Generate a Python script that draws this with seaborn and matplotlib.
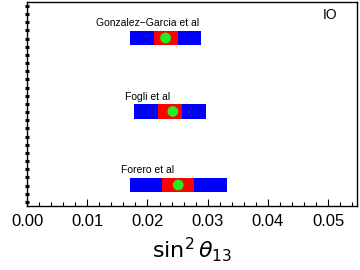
import numpy as np
import pandas as pd
import matplotlib
matplotlib.use("Agg")
import matplotlib.pyplot as plt
import seaborn as sns

# global fits of sin^2(theta13), inverted ordering
groups = ["Forero et al", "Fogli et al", "Gonzalez\u2212Garcia et al"]
ypos = [1, 2, 3]
best_fit = [0.0251, 0.0242, 0.0230]
one_sigma_lo = [0.0224, 0.0217, 0.0210]
one_sigma_hi = [0.0277, 0.0258, 0.0251]
three_sigma_lo = [0.0171, 0.0178, 0.0171]
three_sigma_hi = [0.0332, 0.0297, 0.0289]

df = pd.DataFrame({"group": groups, "y": ypos, "best": best_fit,
                   "lo1": one_sigma_lo, "hi1": one_sigma_hi,
                   "lo3": three_sigma_lo, "hi3": three_sigma_hi})

sns.set_style("ticks", {"text.color": "black", "xtick.color": "black",
                        "ytick.color": "black", "axes.labelcolor": "black"})
plt.rcParams["font.family"] = ["Liberation Sans", "DejaVu Sans"]
plt.rcParams["mathtext.fontset"] = "dejavusans"

fig = plt.figure(figsize=(3.6, 2.7), dpi=100)
ax = fig.add_axes([0.075, 0.237, 0.917, 0.756])

h = 0.2
ax.barh(df["y"], df["hi3"] - df["lo3"], left=df["lo3"], height=h, color="#0000ff", linewidth=0)
ax.barh(df["y"], df["hi1"] - df["lo1"], left=df["lo1"], height=h, color="#ff0000", linewidth=0)
sns.scatterplot(data=df, x="best", y="y", ax=ax, color="#22ee22", s=60, edgecolor="none", zorder=3)

for _, r in df.iterrows():
    ax.text(0.0200, r["y"] + 0.2, r["group"], ha="center", va="center", fontsize=7.5, color="black")

ax.text(0.0503, 3.31, "IO", fontsize=10, ha="center", va="center", color="black")

ax.set_xlim(0, 0.0548)
ax.set_ylim(0.714, 3.49)
ax.set_xticks(np.arange(0, 0.051, 0.01))
ax.set_xticklabels([f"{v:.2f}" for v in np.arange(0, 0.051, 0.01)])
ax.set_xticks(np.arange(0, 0.0548, 0.002), minor=True)
ax.tick_params(axis="x", which="major", direction="in", length=5, width=0.8, labelsize=12, pad=6,
               colors="black")
ax.tick_params(axis="x", which="minor", direction="in", length=3, width=0.8, colors="black")
ax.set_yticks(np.arange(0.77, 3.49, 0.111))
ax.tick_params(axis="y", direction="inout", length=3.5, width=2.2, labelleft=False, colors="black")
ax.set_ylabel("")
ax.set_xlabel(r"$\sin^2\theta_{13}$", fontsize=16, labelpad=4, color="black")
for s in ax.spines.values():
    s.set_linewidth(1.0)
    s.set_color("black")

fig.savefig("out.png", dpi=100)
